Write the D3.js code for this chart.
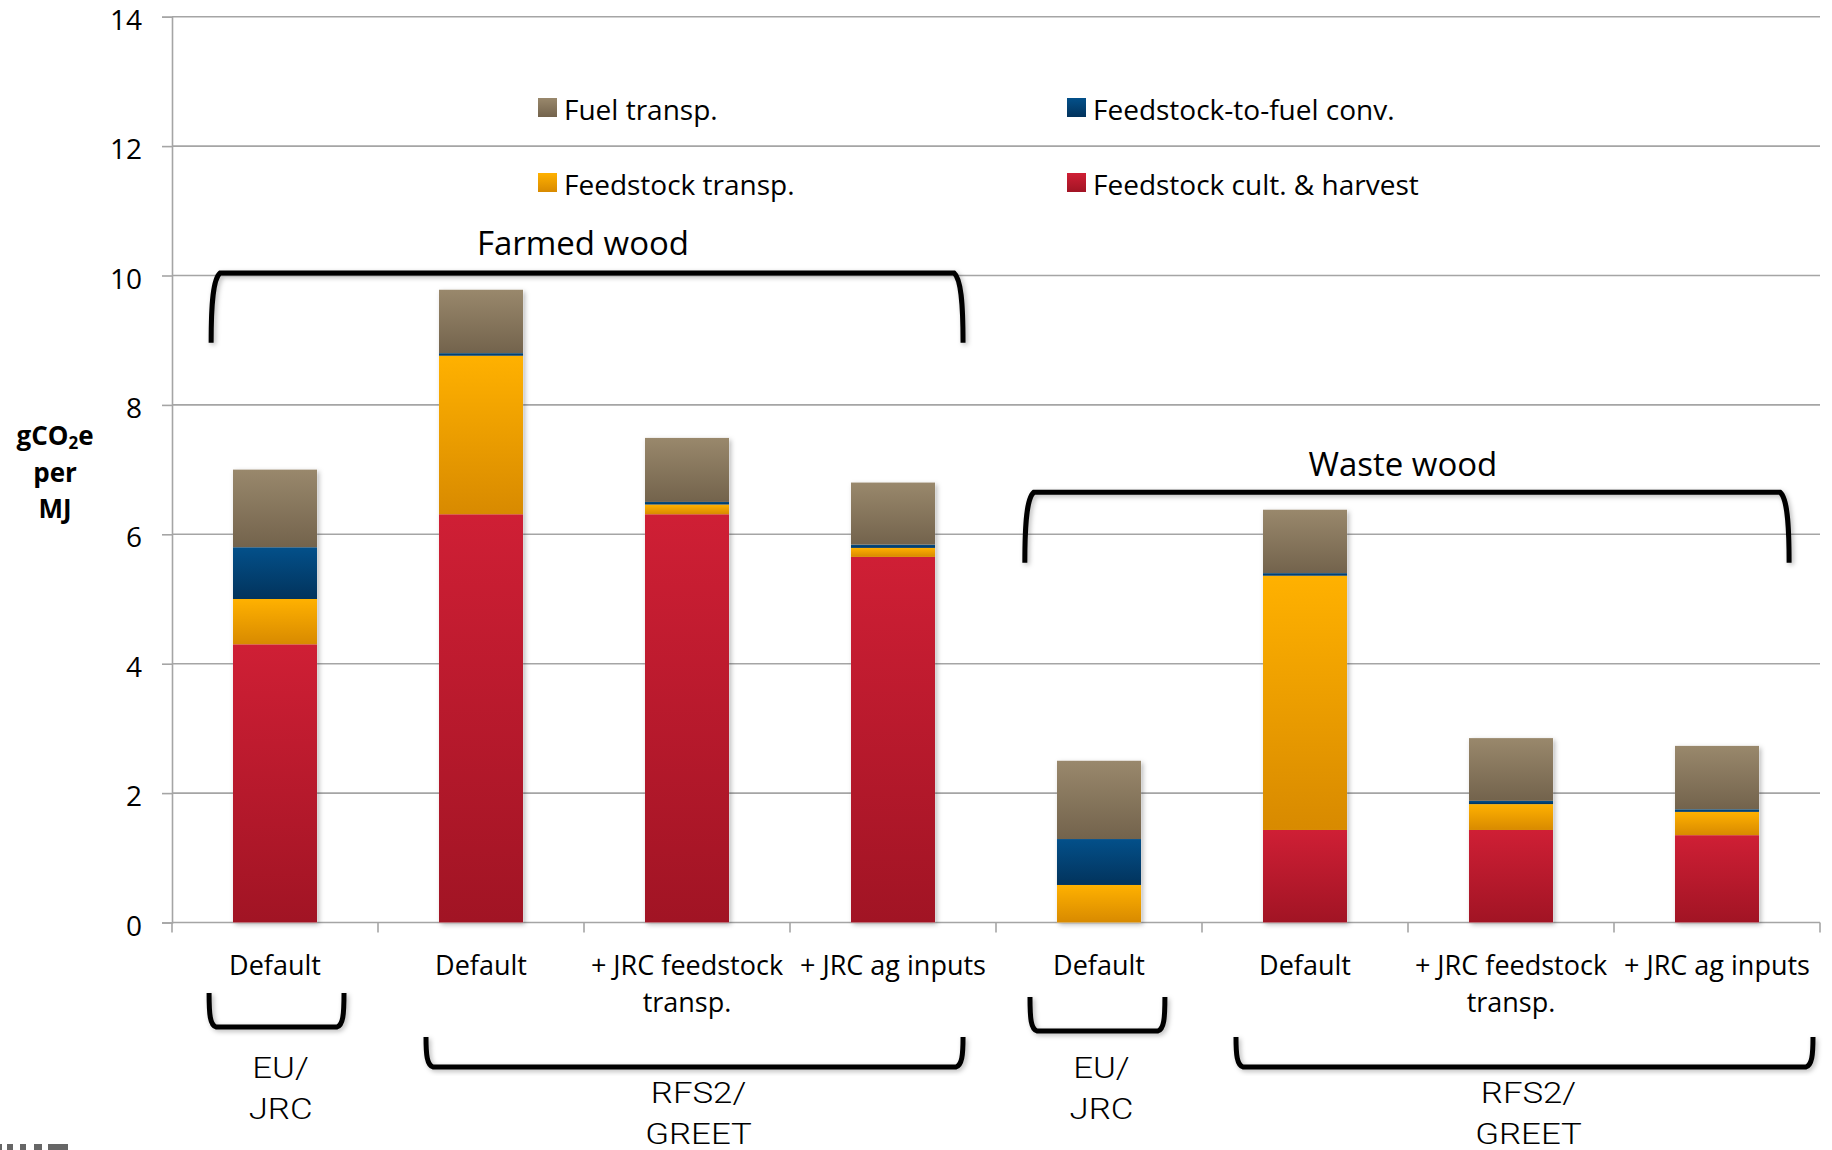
<!DOCTYPE html>
<html>
<head>
<meta charset="utf-8">
<script src="https://cdn.jsdelivr.net/npm/d3@7"></script>
<style>
  html, body { margin: 0; padding: 0; background: #ffffff; }
  svg { display: block; }
</style>
</head>
<body>
<svg id="chart" width="1832" height="1150"></svg>
<script>
// ---------------- DATA ----------------
const categories = ["Default", "Default", "+ JRC feedstock|transp.", "+ JRC ag inputs",
                    "Default", "Default", "+ JRC feedstock|transp.", "+ JRC ag inputs"];
const cultHarvest   = [4.30, 6.31, 6.31, 5.65, 0.00, 1.43, 1.43, 1.35];
const feedTransp    = [0.70, 2.45, 0.15, 0.14, 0.58, 3.93, 0.40, 0.36];
const feedToFuel    = [0.80, 0.04, 0.04, 0.05, 0.71, 0.04, 0.05, 0.04];
const fuelTransp    = [1.20, 0.98, 0.99, 0.96, 1.21, 0.98, 0.97, 0.98];
const seriesNames   = ["Feedstock cult. & harvest", "Feedstock transp.", "Feedstock-to-fuel conv.", "Fuel transp."];
const yTicks        = [0, 2, 4, 6, 8, 10, 12, 14];
const yTitleLines   = ["gCO|2|e", "per", "MJ"];
// group annotations (x in category units, y in data units for the upper braces)
const upperGroups   = [{label: "Farmed wood", x0: 0.19, x1: 3.84, top: 10.04, bottom: 8.96, labelY: 10.32},
                       {label: "Waste wood",  x0: 4.14, x1: 7.85, top: 6.65,  bottom: 5.56, labelY: 6.90}];
const lowerGroups   = [{lines: ["EU/", "JRC"],    x0: 0.18, x1: 0.835, big: false},
                       {lines: ["RFS2/", "GREET"], x0: 1.233, x1: 3.84, big: true},
                       {lines: ["EU/", "JRC"],    x0: 4.165, x1: 4.82, big: false},
                       {lines: ["RFS2/", "GREET"], x0: 5.165, x1: 7.966, big: true}];

// ---------------- LAYOUT ----------------
const W = 1832, H = 1150;
const margin = {left: 172, right: 12, top: 16.7, bottom: 227.5};
const plotW = W - margin.left - margin.right;
const svg = d3.select("#chart");
const defs = svg.append("defs");

const colors = {
  "Feedstock cult. & harvest": ["#cf1f35", "#a11424"],
  "Feedstock transp.":         ["#ffb100", "#d88a00"],
  "Feedstock-to-fuel conv.":   ["#03508a", "#02335c"],
  "Fuel transp.":              ["#99886c", "#73634c"]
};
seriesNames.forEach((s, i) => {
  const g = defs.append("linearGradient").attr("id", "grad" + i)
    .attr("x1", 0).attr("y1", 0).attr("x2", 0).attr("y2", 1);
  g.append("stop").attr("offset", "0%").attr("stop-color", colors[s][0]);
  g.append("stop").attr("offset", "100%").attr("stop-color", colors[s][1]);
});
const shadow = defs.append("filter").attr("id", "shadow")
  .attr("x", "-20%").attr("y", "-20%").attr("width", "150%").attr("height", "150%");
shadow.append("feDropShadow").attr("dx", 2).attr("dy", 2).attr("stdDeviation", 2.5)
  .attr("flood-color", "#000").attr("flood-opacity", 0.28);

const y = d3.scaleLinear().domain([0, 14]).range([H - margin.bottom, margin.top]);
const x = d3.scaleBand().domain(d3.range(categories.length))
  .range([margin.left, margin.left + plotW]).paddingInner(0.592).paddingOuter(0.296);
const xu = d3.scaleLinear().domain([0, categories.length]).range([margin.left, margin.left + plotW]);

const gridColor = "#a5a5a5";

// grid lines
svg.append("g").selectAll("line").data(yTicks.filter(d => d > 0)).join("line")
  .attr("x1", margin.left).attr("x2", margin.left + plotW)
  .attr("y1", d => y(d)).attr("y2", d => y(d))
  .attr("stroke", gridColor).attr("stroke-width", 1.6);

// y axis
const yAxis = svg.append("g").attr("transform", `translate(${margin.left},0)`)
  .call(d3.axisLeft(y).tickValues(yTicks).tickSize(10).tickPadding(20));
yAxis.select(".domain").attr("stroke", gridColor).attr("stroke-width", 1.6);
yAxis.selectAll(".tick line").attr("stroke", gridColor).attr("stroke-width", 1.6);
yAxis.selectAll(".tick text").attr("font-family", "Open Sans").attr("font-size", 28)
  .attr("fill", "#000").attr("dy", "0.45em");

// x axis baseline + ticks at band boundaries
svg.append("line").attr("x1", margin.left).attr("x2", margin.left + plotW)
  .attr("y1", y(0)).attr("y2", y(0)).attr("stroke", gridColor).attr("stroke-width", 1.6);
svg.append("g").selectAll("line").data(d3.range(categories.length + 1)).join("line")
  .attr("x1", d => xu(d)).attr("x2", d => xu(d))
  .attr("y1", y(0)).attr("y2", y(0) + 10)
  .attr("stroke", gridColor).attr("stroke-width", 1.6);

// stacked bars
const rows = categories.map((c, i) => ({
  i,
  "Feedstock cult. & harvest": cultHarvest[i],
  "Feedstock transp.": feedTransp[i],
  "Feedstock-to-fuel conv.": feedToFuel[i],
  "Fuel transp.": fuelTransp[i]
}));
const stacked = d3.stack().keys(seriesNames)(rows);

// shadows behind whole bars
svg.append("g").selectAll("rect").data(rows).join("rect")
  .attr("x", d => x(d.i)).attr("width", x.bandwidth())
  .attr("y", (d, j) => y(stacked[3][j][1]))
  .attr("height", (d, j) => y(0) - y(stacked[3][j][1]))
  .attr("fill", "#fff").attr("filter", "url(#shadow)");

svg.append("g").selectAll("g").data(stacked).join("g")
  .attr("fill", (d, k) => `url(#grad${k})`)
  .selectAll("rect").data(d => d.filter(p => p[1] - p[0] > 0)).join("rect")
  .attr("x", d => x(d.data.i)).attr("width", x.bandwidth())
  .attr("y", d => y(d[1])).attr("height", d => y(d[0]) - y(d[1]));

// category labels
const xl = svg.append("g").attr("font-family", "Open Sans").attr("font-size", 27).attr("fill", "#000");
categories.forEach((c, i) => {
  const lines = c.split("|");
  const t = xl.append("text").attr("text-anchor", "middle")
    .attr("x", x(i) + x.bandwidth() / 2).attr("y", 975);
  lines.forEach((ln, k) => t.append("tspan").attr("x", x(i) + x.bandwidth() / 2)
    .attr("dy", k === 0 ? 0 : 37).text(ln));
});

// y title (one text element per line)
yTitleLines.forEach((ln, k) => {
  const parts = ln.split("|");
  const t = svg.append("text").attr("font-family", "Open Sans").attr("font-weight", "bold")
    .attr("font-size", 26).attr("text-anchor", "middle").attr("fill", "#000")
    .attr("x", 55).attr("y", 445 + k * 36.5);
  if (parts.length === 3) {
    t.append("tspan").text(parts[0]);
    t.append("tspan").attr("font-size", 17).attr("dy", 4).text(parts[1]);
    t.append("tspan").attr("dy", -4).text(parts[2]);
  } else t.text(ln);
});

// legend (2 x 2)
const legendOrder = ["Fuel transp.", "Feedstock-to-fuel conv.", "Feedstock transp.", "Feedstock cult. & harvest"];
const legend = svg.append("g").attr("font-family", "Open Sans").attr("font-size", 28);
legendOrder.forEach((s, k) => {
  const col = k % 2, row = Math.floor(k / 2);
  const lx = col === 0 ? 538 : 1067, ly = row === 0 ? 98 : 173;
  const idx = seriesNames.indexOf(s);
  legend.append("rect").attr("x", lx).attr("y", ly).attr("width", 19).attr("height", 19)
    .attr("fill", `url(#grad${idx})`);
  legend.append("text").attr("x", lx + 26).attr("y", ly + 22).attr("fill", "#000").text(s);
});

// upper braces
upperGroups.forEach(g => {
  const x0 = xu(g.x0), x1 = xu(g.x1), yt0 = y(g.top), yb = y(g.bottom);
  const p = d3.path();
  p.moveTo(x0, yb);
  p.bezierCurveTo(x0, yt0 + 30, x0 + 2, yt0 + 6, x0 + 9, yt0);
  p.lineTo(x1 - 9, yt0);
  p.bezierCurveTo(x1 - 2, yt0 + 6, x1, yt0 + 30, x1, yb);
  svg.append("path").attr("d", p.toString()).attr("fill", "none")
    .attr("stroke", "#000").attr("stroke-width", 5).attr("filter", "url(#shadow)");
  svg.append("text").attr("x", xu((g.x0 + g.x1) / 2 - 0.02)).attr("y", y(g.labelY))
    .attr("text-anchor", "middle").attr("font-family", "Open Sans")
    .attr("font-size", 33).attr("fill", "#000").text(g.label);
});

// lower brackets
lowerGroups.forEach(g => {
  const x0 = xu(g.x0), x1 = xu(g.x1);
  const top = g.big ? 1037 : (g.x0 < 2 ? 993 : 997);
  const bot = g.big ? 1067 : (g.x0 < 2 ? 1027 : 1031);
  const p = d3.path();
  p.moveTo(x0, top);
  p.bezierCurveTo(x0, bot - 12, x0 + 1, bot - 2, x0 + 7, bot);
  p.lineTo(x1 - 7, bot);
  p.bezierCurveTo(x1 - 1, bot - 2, x1, bot - 12, x1, top);
  svg.append("path").attr("d", p.toString()).attr("fill", "none")
    .attr("stroke", "#000").attr("stroke-width", 5).attr("filter", "url(#shadow)");
  const cx = (x0 + x1) / 2 + 4;
  const base = g.big ? 1103 : 1078;
  g.lines.forEach((ln, k) => {
    svg.append("text")
      .attr("transform", `translate(${cx},${base + k * 41}) scale(1.2,1)`)
      .attr("text-anchor", "middle").attr("font-family", "Roboto").attr("font-weight", 300)
      .attr("font-size", 29).attr("fill", "#000").text(ln);
  });
});

// small logo fragment in the bottom-left corner
const logoBits = [[0, 2], [7, 6], [20, 6], [34, 8], [48, 20]];
svg.append("g").selectAll("rect").data(logoBits).join("rect")
  .attr("x", d => d[0]).attr("width", d => d[1]).attr("y", 1144).attr("height", 6)
  .attr("fill", "#666");
</script>
</body>
</html>
